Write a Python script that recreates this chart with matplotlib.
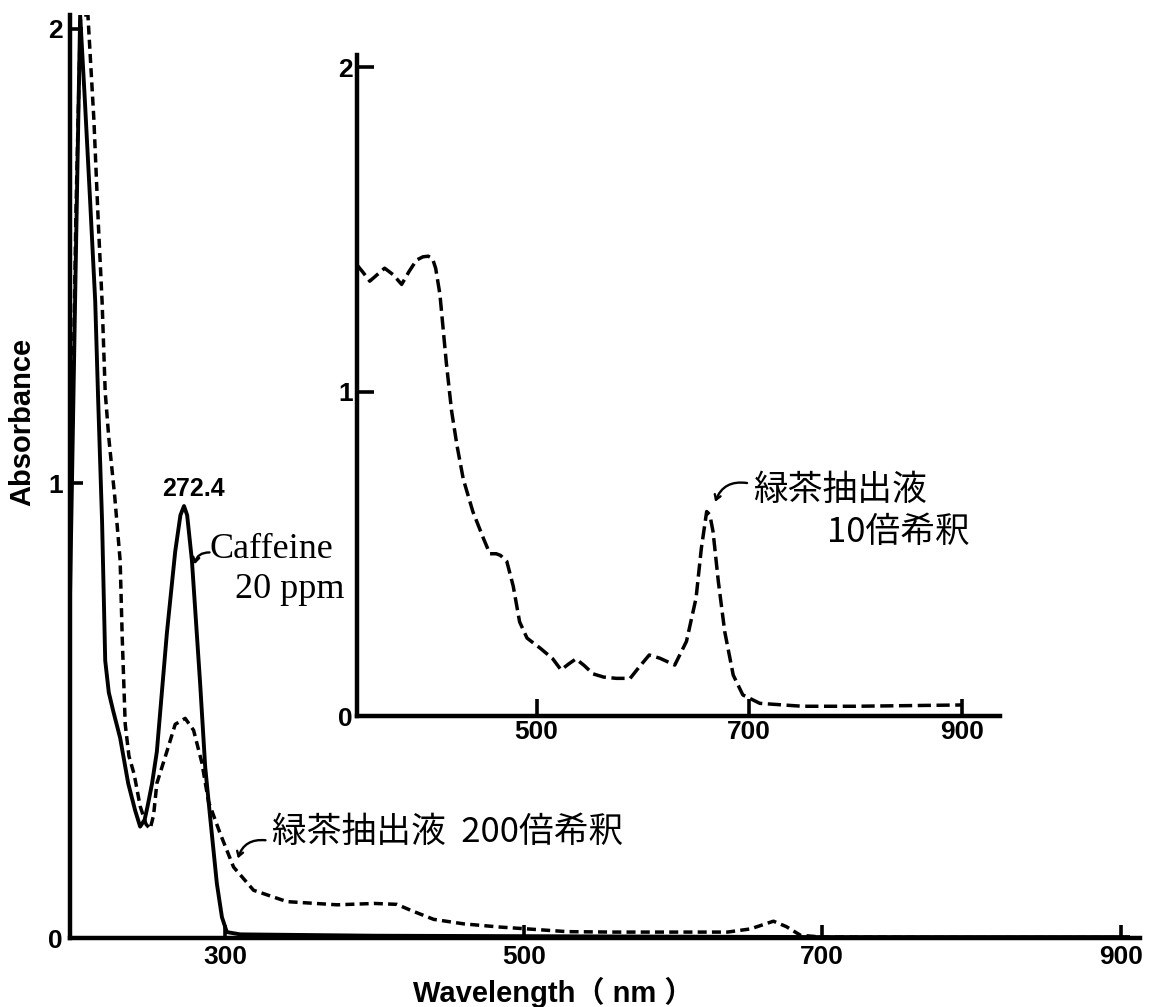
import matplotlib
matplotlib.use('Agg')
import matplotlib.pyplot as plt

# main panel, caffeine 20 ppm (solid line)
caf_nm = [196, 199.4, 202.8, 206, 209.5, 212.9, 214.9, 217.5, 219.6, 222, 224.9, 229.6,
          235, 239.7, 243, 246, 248, 251, 254.2, 260.9, 266.5, 270, 272.4, 274.5,
          277.7, 283.2, 286.6, 289.9, 294.4, 297.8, 301.1, 310, 400, 500, 600, 700,
          800, 905]
caf_abs = [0.75, 1.40, 2.03, 1.84, 1.62, 1.40, 1.18, 0.915, 0.61, 0.54, 0.50, 0.44,
           0.34, 0.28, 0.245, 0.26, 0.29, 0.34, 0.41, 0.67, 0.85, 0.93, 0.95, 0.93,
           0.83, 0.56, 0.376, 0.266, 0.12, 0.046, 0.013, 0.008, 0.005, 0.004, 0.003,
           0.002, 0.002, 0.002]

# main panel, green tea extract diluted 200x (dashed line)
tea200_nm = [197, 200, 203, 205.5, 208, 212, 215, 217.5, 219.6, 222, 226, 229.6, 231,
             233, 235.5, 239, 243, 247, 249.7, 252, 254.2, 260.9, 266.5, 273.2, 278.8,
             284.4, 288.8, 296.6, 305.6, 319, 341.4, 375, 400, 415, 425, 439.7, 460,
             484.4, 502.5, 529, 560, 596, 636.6, 652, 667.4, 676, 685.5, 700, 800, 905]
tea200_abs = [1.0, 1.6, 2.02, 2.03, 2.03, 1.80, 1.57, 1.40, 1.20, 1.10, 0.97, 0.83,
              0.66, 0.47, 0.40, 0.36, 0.29, 0.25, 0.24, 0.27, 0.34, 0.41, 0.47, 0.483,
              0.457, 0.385, 0.30, 0.23, 0.156, 0.105, 0.08, 0.073, 0.076, 0.074, 0.06,
              0.041, 0.031, 0.024, 0.02, 0.014, 0.013, 0.013, 0.013, 0.02, 0.037,
              0.025, 0.006, 0.002, 0.001, 0.001]

# inset, green tea extract diluted 10x (dashed line)
tea10_nm = [331, 336, 343, 350, 357, 365, 373, 380, 387, 393, 398, 402, 405, 409, 412,
            415, 420, 425, 431, 440, 450, 456, 462, 466, 472, 478, 484, 491, 503, 515,
            523, 530, 537, 545, 553, 563, 575, 588, 597, 606, 616, 630, 641, 650, 655,
            660, 663, 666, 671, 677, 685, 694, 710, 750, 800, 850, 900]
tea10_abs = [1.39, 1.37, 1.34, 1.36, 1.38, 1.36, 1.33, 1.37, 1.405, 1.415, 1.417, 1.41,
             1.38, 1.30, 1.195, 1.09, 0.94, 0.835, 0.73, 0.63, 0.547, 0.50, 0.50, 0.495,
             0.476, 0.40, 0.29, 0.24, 0.21, 0.177, 0.142, 0.16, 0.176, 0.155, 0.13,
             0.12, 0.116, 0.116, 0.153, 0.188, 0.178, 0.157, 0.23, 0.363, 0.517, 0.63,
             0.62, 0.568, 0.414, 0.26, 0.126, 0.065, 0.039, 0.03, 0.03, 0.032, 0.034]

main_xticks = [300, 500, 700, 900]
main_yticks = [0, 1, 2]
inset_xticks = [500, 700, 900]
inset_yticks = [0, 1, 2]

W, H = 1153, 1007
jp = ['Noto Sans CJK JP', 'DejaVu Sans']
arrow = dict(arrowstyle='->,head_length=0.35,head_width=0.22',
             connectionstyle='arc3,rad=0.4', lw=1.7, color='black',
             shrinkA=0, shrinkB=0)


def style_axes(ax, ticklen, xpad, ypad):
    for s in ('top', 'right'):
        ax.spines[s].set_visible(False)
    for s in ('left', 'bottom'):
        ax.spines[s].set_linewidth(3.2)
    ax.tick_params(direction='in', length=ticklen, width=2.6, color='black')
    ax.tick_params(axis='x', pad=xpad)
    ax.tick_params(axis='y', pad=ypad)
    for lab in ax.get_xticklabels() + ax.get_yticklabels():
        lab.set_fontfamily('Liberation Sans')
        lab.set_fontweight('bold')
        lab.set_fontsize(19)


fig = plt.figure(figsize=(W / 100, H / 100), dpi=100)

# main panel
ax = fig.add_axes([70 / W, (H - 938) / H, (1140 - 70) / W, (938 - 15) / H])
ax.plot(caf_nm, caf_abs, color='black', lw=2.8, solid_joinstyle='round')
ax.plot(tea200_nm, tea200_abs, color='black', lw=2.5, ls=(0, (2.6, 1.5)))
ax.set_xlim(196, 913)
ax.set_ylim(0, 2.03)
ax.set_xticks(main_xticks)
ax.set_yticks(main_yticks)
style_axes(ax, 9.5, 5, 5)

ax.text(278.5, 0.987, '272.4', ha='center', va='center', fontsize=18,
        fontweight='bold', family='Liberation Sans')
ax.text(289.5, 0.836, 'Caffeine', ha='left', va='baseline', fontsize=26,
        family='Liberation Serif')
ax.text(306.5, 0.748, '20 ppm', ha='left', va='baseline', fontsize=26,
        family='Liberation Serif')
ax.annotate('', xy=(279.5, 0.822), xytext=(289.5, 0.848), arrowprops=arrow)
ax.text(331.5, 0.233, '緑茶抽出液  200倍希釈', ha='left', va='center', fontsize=25,
        family=jp)
ax.annotate('', xy=(308.5, 0.175), xytext=(327, 0.215), arrowprops=arrow)

fig.text(22 / W, 1 - 422 / H, 'Absorbance', rotation=90, ha='center', va='center',
         fontsize=21, fontweight='bold', family='Liberation Sans')
fig.text(413 / W, 1 - 992 / H, 'Wavelength（ nm ）', ha='left', va='center',
         fontsize=21, fontweight='bold', family=['Liberation Sans', 'Noto Sans CJK JP'])

# inset
ins = fig.add_axes([357 / W, (H - 716) / H, (1000 - 357) / W, (716 - 55) / H])
ins.plot(tea10_nm, tea10_abs, color='black', lw=2.5, ls=(0, (3.8, 1.6)))
ins.set_xlim(331, 936)
ins.set_ylim(0, 2.037)
ins.set_xticks(inset_xticks)
ins.set_yticks(inset_yticks)
ins.patch.set_alpha(0)
style_axes(ins, 12, 3, 3)

ins.text(703.5, 0.696, '緑茶抽出液', ha='left', va='center', fontsize=25, family=jp)
ins.text(773, 0.567, '10倍希釈', ha='left', va='center', fontsize=25, family=jp)
ins.annotate('', xy=(668, 0.66), xytext=(698, 0.718), arrowprops=arrow)

fig.savefig('out.png', dpi=100)
